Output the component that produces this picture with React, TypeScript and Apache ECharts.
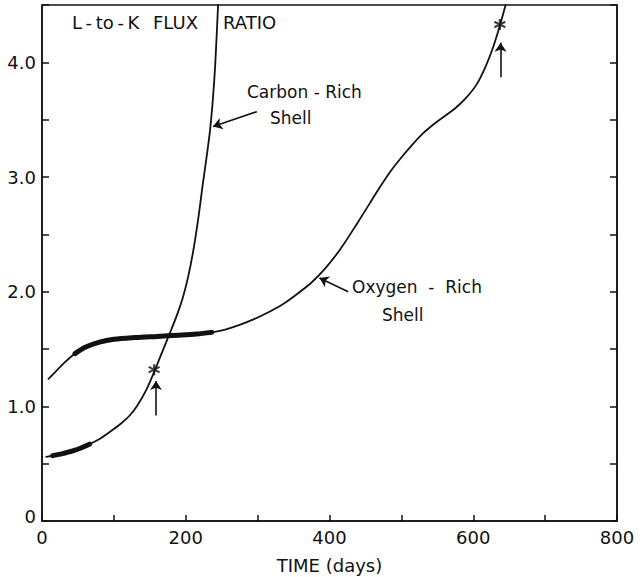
import React, { useEffect, useRef } from "react";
import * as echarts from "echarts";

// L-to-K flux ratio versus time for two shell compositions
const oxygenRich: [number, number][] = [
  [9, 1.24], [20, 1.31], [32, 1.385], [46, 1.46], [60, 1.515], [80, 1.56],
  [100, 1.585], [130, 1.6], [160, 1.61], [190, 1.62], [215, 1.63], [236, 1.645],
  [255, 1.67], [275, 1.71], [295, 1.76], [315, 1.82], [335, 1.89], [355, 1.98],
  [375, 2.08], [395, 2.21], [415, 2.37], [440, 2.61], [456, 2.77], [470, 2.91],
  [485, 3.05], [500, 3.17], [515, 3.28], [530, 3.38], [545, 3.46], [560, 3.53],
  [575, 3.6], [590, 3.69], [605, 3.81], [617, 3.96], [627, 4.12], [637, 4.32],
  [645, 4.5],
];
const carbonRich: [number, number][] = [
  [6, 0.56], [15, 0.57], [30, 0.59], [45, 0.615], [66, 0.67], [80, 0.715],
  [95, 0.78], [110, 0.85], [122, 0.92], [132, 1.0], [146, 1.155], [156, 1.3],
  [166, 1.455], [178, 1.64], [188, 1.8], [196, 1.95], [203, 2.12], [210, 2.34],
  [217, 2.62], [224, 2.95], [230, 3.22], [234, 3.42], [238, 3.7], [241, 3.98],
  [245, 4.5],
];

// Day ranges drawn with a heavy stroke
const oxygenHeavy: [number, number] = [46, 236];
const carbonHeavy: [number, number] = [15, 66];

// Asterisk markers and the arrows beneath them
const starPoints: [number, number][] = [[156, 1.32], [637, 4.33]];
const starArrows: [number, number][][] = [
  [[158.6, 0.92], [158.6, 1.22]],
  [[638, 3.87], [638, 4.17]],
];
// Label arrows (tail -> head)
const labelArrows: [number, number][][] = [
  [[299, 3.57], [238, 3.44]],
  [[426, 2.0], [386, 2.12]],
];

const xMin = 0, xMax = 800, xStep = 100;
const yMin = 0, yMax = 4.5, yStep = 0.5;

const INK = "#111111";
const FONT = "DejaVu Sans";
const THIN = "\u2009";

function within(data: [number, number][], r: [number, number]) {
  return data.filter((d) => d[0] >= r[0] && d[0] <= r[1]);
}

export default function App() {
  const ref = useRef<HTMLDivElement>(null);

  useEffect(() => {
    if (!ref.current) return;
    const chart = echarts.init(ref.current, null, { renderer: "svg" });

    const curve = (name: string, data: [number, number][], width: number) => ({
      name,
      type: "line",
      data,
      smooth: 0.3,
      symbol: "none",
      lineStyle: { color: INK, width, cap: "round", join: "round" },
      silent: true,
      z: 3,
    });

    const arrowLines = (pairs: [number, number][][]) =>
      pairs.map((p) => [{ coord: p[0] }, { coord: p[1] }]);

    const textStyle = (size: number) => ({
      fill: INK,
      fontFamily: FONT,
      fontSize: size,
    });

    chart.setOption({
      animation: false,
      backgroundColor: "#ffffff",
      grid: {
        left: 42,
        right: 25,
        top: 5,
        bottom: 56,
        show: true,
        borderColor: INK,
        borderWidth: 1.5,
        containLabel: false,
        outerBoundsMode: "none",
      },
      xAxis: {
        type: "value",
        min: xMin,
        max: xMax,
        interval: xStep,
        name: "TIME (days)",
        nameLocation: "middle",
        nameGap: 35,
        nameTextStyle: { color: INK, fontFamily: FONT, fontSize: 18 },
        axisLine: { show: true, lineStyle: { color: INK, width: 1.5 } },
        axisTick: { show: true, inside: true, length: 6, lineStyle: { color: INK, width: 1.5 } },
        axisLabel: {
          color: INK,
          fontFamily: FONT,
          fontSize: 18,
          margin: 7,
          formatter: (v: number) => (v % 200 === 0 ? String(v) : ""),
        },
        splitLine: { show: false },
      },
      yAxis: [
        {
          type: "value",
          min: yMin,
          max: yMax,
          interval: yStep,
          axisLine: { show: true, lineStyle: { color: INK, width: 1.5 } },
          axisTick: { show: true, inside: true, length: 7, lineStyle: { color: INK, width: 1.5 } },
          axisLabel: {
            color: INK,
            fontFamily: FONT,
            fontSize: 18,
            margin: 6,
            formatter: (v: number) => {
              if (Math.abs(v) < 1e-9) return "{z|0}";
              if (Math.abs(v - Math.round(v)) < 1e-9 && v < yMax) return v.toFixed(1);
              return "";
            },
            rich: { z: { fontFamily: FONT, fontSize: 18, color: INK, padding: [0, 0, 10, 0] } },
          },
          splitLine: { show: false },
        },
        {
          type: "value",
          position: "right",
          min: yMin,
          max: yMax,
          interval: yStep,
          axisLine: { show: true, lineStyle: { color: INK, width: 1.5 } },
          axisTick: { show: true, inside: true, length: 7, lineStyle: { color: INK, width: 1.5 } },
          axisLabel: { show: false },
          splitLine: { show: false },
        },
      ],
      series: [
        curve("Oxygen-Rich Shell", oxygenRich, 1.8),
        curve("Oxygen-Rich Shell (heavy)", within(oxygenRich, oxygenHeavy), 5),
        curve("Carbon-Rich Shell", carbonRich, 1.8),
        curve("Carbon-Rich Shell (heavy)", within(carbonRich, carbonHeavy), 5),
        {
          name: "markers",
          type: "scatter",
          data: starPoints,
          symbol: "path://M6 0 L6 12 M0.8 3 L11.2 9 M0.8 9 L11.2 3",
          symbolSize: 11,
          itemStyle: { color: "rgba(0,0,0,0)", borderColor: INK, borderWidth: 2.2 },
          silent: true,
          z: 4,
          markLine: {
            silent: true,
            symbol: ["none", "arrow"],
            symbolSize: 9,
            label: { show: false },
            lineStyle: { color: INK, width: 1.6, type: "solid" },
            data: [...arrowLines(starArrows), ...arrowLines(labelArrows)],
          },
        },
      ],
      graphic: [
        { type: "text", left: 72, top: 13, style: { ...textStyle(18), text: `L${THIN}-${THIN}to${THIN}-${THIN}K` } },
        { type: "text", left: 153, top: 13, style: { ...textStyle(18), text: "FLUX" } },
        { type: "text", left: 223, top: 13, style: { ...textStyle(18), text: "RATIO" } },
        { type: "text", left: 247, top: 83, style: { ...textStyle(17), text: "Carbon - Rich" } },
        { type: "text", left: 270, top: 109, style: { ...textStyle(17), text: "Shell" } },
        { type: "text", left: 352, top: 278, style: { ...textStyle(17), text: "Oxygen  -  Rich" } },
        { type: "text", left: 382, top: 306, style: { ...textStyle(17), text: "Shell" } },
      ],
    });

    return () => chart.dispose();
  }, []);

  return (
    <div
      ref={ref}
      style={{ position: "absolute", left: 0, top: 0, width: 642, height: 577, background: "#fff" }}
    />
  );
}
